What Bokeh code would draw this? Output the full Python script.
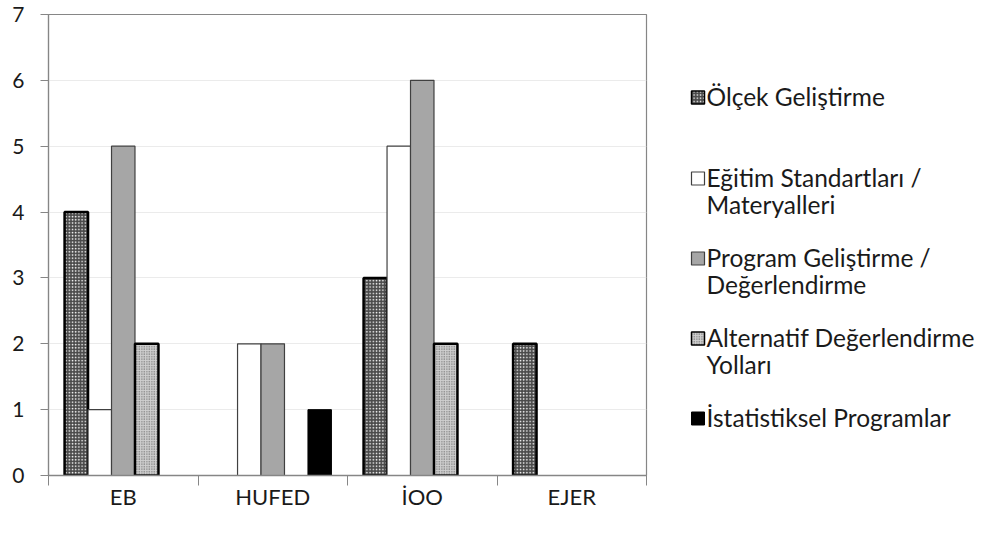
from bokeh.plotting import figure
from bokeh.models import Range1d, FixedTicker, ColumnDataSource
from bokeh.layouts import row
from bokeh.core.properties import value
from bokeh.embed import file_html
from bokeh.resources import INLINE

# ---------------- data ----------------
categories = ["EB", "HUFED", "İOO", "EJER"]
series_names = [
    "Ölçek Geliştirme",
    "Eğitim Standartları / Materyalleri",
    "Program Geliştirme / Değerlendirme",
    "Alternatif Değerlendirme Yolları",
    "İstatistiksel Programlar",
]
legend_lines = [
    ["Ölçek Geliştirme"],
    ["Eğitim Standartları /", "Materyalleri"],
    ["Program Geliştirme /", "Değerlendirme"],
    ["Alternatif Değerlendirme", "Yolları"],
    ["İstatistiksel Programlar"],
]
olcek = [4, 0, 3, 2]
egitim = [1, 2, 5, 0]
program = [5, 2, 6, 0]
alternatif = [2, 0, 2, 0]
istatistik = [0, 1, 0, 0]
series_values = [olcek, egitim, program, alternatif, istatistik]
y_ticks = [0, 1, 2, 3, 4, 5, 6, 7]

# ---------------- styles ----------------
FONT = "Lato"
TXT = "#1a1a1a"
styles = [
    dict(fill_color="#4a4a4a", hatch_pattern="dot", hatch_scale=3.2, hatch_weight=1.6,
         hatch_color="white", line_color="black", line_width=2.5),
    dict(fill_color="white", line_color="#404040", line_width=1.2),
    dict(fill_color="#a6a6a6", line_color="#404040", line_width=1.2),
    dict(fill_color="#cfcfcf", hatch_pattern="dot", hatch_scale=2.5, hatch_weight=0.7,
         hatch_color="#555555", line_color="black", line_width=2.5),
    dict(fill_color="black", line_color="black", line_width=1),
]

BAR_W = 0.157
n_cat = len(categories)
TOP, BOTTOM = 14, 62
FRAME_H = 537 - TOP - BOTTOM

p = figure(
    output_backend="svg", toolbar_location=None,
    width=660, height=537,
    frame_width=598, frame_height=FRAME_H,
    x_range=Range1d(0, n_cat), y_range=Range1d(0, 7),
    min_border_left=48, min_border_right=14, min_border_top=TOP, min_border_bottom=BOTTOM,
)
p.background_fill_color = "white"
p.border_fill_color = "white"
p.outline_line_color = "#868686"
p.outline_line_width = 1.2

for i, vals in enumerate(series_values):
    xs = [k + 0.5 + (i - 2) * BAR_W for k, v in enumerate(vals) if v > 0]
    tops = [v for v in vals if v > 0]
    src = ColumnDataSource(dict(x=xs, top=tops))
    p.vbar(x="x", top="top", bottom=0, width=BAR_W, source=src, **styles[i])

# grid
p.xgrid.visible = False
p.ygrid.grid_line_color = "#ebebeb"
p.ygrid.grid_line_width = 1
p.ygrid.ticker = FixedTicker(ticks=y_ticks)

# y axis
ya = p.yaxis[0]
ya.ticker = FixedTicker(ticks=y_ticks)
ya.axis_line_color = "#868686"
ya.axis_line_width = 1.2
ya.major_tick_line_color = "#868686"
ya.major_tick_out = 8
ya.major_tick_in = 0
ya.minor_tick_line_color = None
ya.major_label_standoff = 16
ya.major_label_text_font = FONT
ya.major_label_text_font_size = "21px"
ya.major_label_text_color = TXT

# x axis
centers = [k + 0.5 for k in range(n_cat)]
xa = p.xaxis[0]
xa.ticker = FixedTicker(ticks=centers, minor_ticks=list(range(n_cat + 1)))
xa.major_label_overrides = {c: lab for c, lab in zip(centers, categories)}
xa.axis_line_color = "#868686"
xa.axis_line_width = 1.5
xa.major_tick_line_color = None
xa.major_tick_out = 0
xa.major_tick_in = 0
xa.minor_tick_line_color = "#868686"
xa.minor_tick_out = 10
xa.minor_tick_in = 0
xa.major_label_standoff = -3
xa.major_label_text_font = FONT
xa.major_label_text_font_size = "22px"
xa.major_label_text_color = TXT

# ---------------- legend panel ----------------
# frame aligned with the main plot frame; data units equal screen pixels
lg = figure(
    output_backend="svg", toolbar_location=None,
    width=325, height=537,
    frame_width=325, frame_height=FRAME_H,
    x_range=Range1d(660, 985), y_range=Range1d(537 - BOTTOM, TOP),
    min_border_left=0, min_border_right=0, min_border_top=TOP, min_border_bottom=BOTTOM,
)
lg.axis.visible = False
lg.grid.visible = False
lg.outline_line_color = None
lg.background_fill_color = "white"
lg.border_fill_color = "white"

first_line_y = [96, 177, 257, 337, 417]
LINE_GAP = 27
MARK_X = 697.5
TEXT_X = 706
for i, lines in enumerate(legend_lines):
    y0 = first_line_y[i]
    st = dict(styles[i])
    if st["line_width"] > 1.3:
        st["line_width"] = 1.5
    lg.rect(x=[MARK_X], y=[y0 + 1], width=13, height=13,
            width_units="screen", height_units="screen", **st)
    ys = [y0 + j * LINE_GAP for j in range(len(lines))]
    lg.text(x=[TEXT_X] * len(lines), y=ys, text=lines,
            text_font=value(FONT), text_font_size="24.5px",
            text_baseline="middle", text_align="left", text_color=TXT)

layout = row(p, lg)
open("out.html", "w").write(file_html(layout, INLINE))
